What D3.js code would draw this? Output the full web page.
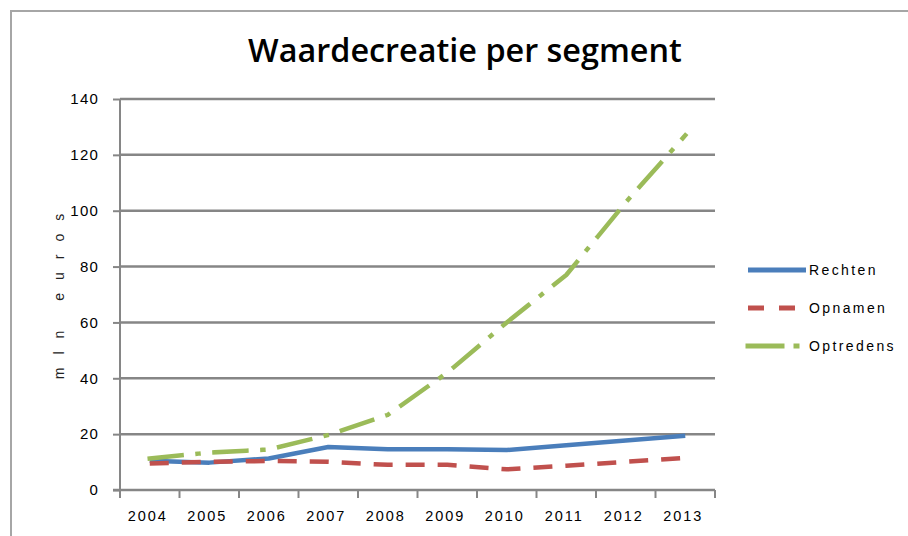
<!DOCTYPE html>
<html>
<head>
<meta charset="utf-8">
<script src="https://cdn.jsdelivr.net/npm/d3@7"></script>
<style>
  html, body { margin: 0; padding: 0; background: #fff; }
  svg { display: block; }
</style>
</head>
<body>
<svg id="chart" width="908" height="536"></svg>
<script>
const title = "Waardecreatie per segment";
const yLabel = "mln euros";
const years = ["2004","2005","2006","2007","2008","2009","2010","2011","2012","2013"];
const yTicks = [0, 20, 40, 60, 80, 100, 120, 140];
const seriesNames = ["Rechten", "Opnamen", "Optredens"];
const rechten   = [10.5, 9.8, 11.3, 15.4, 14.6, 14.6, 14.3, 16.0, 17.7, 19.4];
const opnamen   = [9.5, 10.1, 10.4, 10.1, 9.0, 9.0, 7.4, 8.7, 10.1, 11.5];
const optredens = [11.3, 13.4, 14.5, 19.7, 26.9, 42, 60, 77, 103, 127];

(function () {
const svg = d3.select("#chart");
const W = 908, H = 536;

// outer border
svg.append("path")
  .attr("d", `M11,${H + 5} L11,11 L${W + 5},11`)
  .attr("fill", "none").attr("stroke", "#a6a6a6").attr("stroke-width", 2);

const pL = 120, pR = 715, pT = 99, pB = 490;
const x = d3.scaleBand().domain(years).range([pL, pR]).padding(0);
const y = d3.scaleLinear().domain([0, 140]).range([pB, pT]);
const gridColor = "#868686";

// gridlines
svg.append("g").selectAll("line").data(yTicks.filter(t => t > 0)).join("line")
  .attr("x1", pL).attr("x2", pR)
  .attr("y1", d => y(d)).attr("y2", d => y(d))
  .attr("stroke", gridColor).attr("stroke-width", 2.5);

// y axis
const yAxis = svg.append("g").attr("transform", `translate(${pL},0)`)
  .call(d3.axisLeft(y).tickValues(yTicks).tickSize(7).tickPadding(14).tickFormat(d3.format("d")));
yAxis.select(".domain").attr("stroke", gridColor).attr("stroke-width", 2).attr("d", `M0,${pT}V${pB + 8}`);
yAxis.selectAll(".tick line").attr("stroke", gridColor).attr("stroke-width", 2);
yAxis.selectAll(".tick text")
  .attr("font-family", "Liberation Sans, Arial, sans-serif")
  .attr("font-size", 15).attr("letter-spacing", 1.2).attr("fill", "#000");

// x axis
const xAxis = svg.append("g").attr("transform", `translate(0,${pB})`)
  .call(d3.axisBottom(x).tickSize(0).tickPadding(21));
xAxis.select(".domain").attr("stroke", gridColor).attr("stroke-width", 2.5)
  .attr("d", `M${pL - 7},0H${pR}`);
const bounds = years.map(yr => x(yr)).concat([pR]);
xAxis.selectAll(".bt").data(bounds).join("line").attr("class", "bt")
  .attr("x1", d => d).attr("x2", d => d).attr("y1", 0).attr("y2", 8)
  .attr("stroke", gridColor).attr("stroke-width", 2);
xAxis.selectAll(".tick text")
  .attr("font-family", "Liberation Sans, Arial, sans-serif")
  .attr("font-size", 14.5).attr("letter-spacing", 2).attr("fill", "#000")
  .attr("dx", -2);

// y label
svg.append("text")
  .attr("transform", "translate(64,290) rotate(-90)")
  .attr("text-anchor", "middle")
  .attr("font-family", "Liberation Sans, Arial, sans-serif")
  .attr("font-size", 14).attr("letter-spacing", 13).attr("fill", "#222")
  .text(yLabel);

// title (fit to width)
const t = svg.append("text")
  .attr("x", 465).attr("y", 62).attr("text-anchor", "middle")
  .attr("font-family", "Open Sans, sans-serif").attr("font-weight", 600)
  .attr("font-size", 100).attr("fill", "#000").text(title);
const tw = t.node().getComputedTextLength();
t.attr("font-size", 100 * 434 / tw);

// lines
const cx = i => x(years[i]) + x.bandwidth() / 2;
const line = d3.line().x((d, i) => cx(i)).y(d => y(d));
const styles = [
  { data: rechten,   color: "#4a7ebb", dash: null, cap: "butt" },
  { data: opnamen,   color: "#c0504d", dash: "19,13", cap: "butt" },
  { data: optredens, color: "#9bbb59", dash: "32,16,1,16", cap: "square" }
];
styles.forEach(s => {
  svg.append("path").datum(s.data)
    .attr("d", line)
    .attr("fill", "none").attr("stroke", s.color).attr("stroke-width", 4.5)
    .attr("stroke-linejoin", "round").attr("stroke-linecap", s.cap)
    .attr("stroke-dasharray", s.dash);
});

// legend
const legY = [270, 308, 346];
const legendDash = [null, "16,15", "34,14,1,14"];
seriesNames.forEach((n, i) => {
  svg.append("line")
    .attr("x1", 748).attr("x2", i === 2 ? 802 : 806)
    .attr("y1", legY[i]).attr("y2", legY[i])
    .attr("stroke", styles[i].color).attr("stroke-width", 5)
    .attr("stroke-linecap", styles[i].cap)
    .attr("stroke-dasharray", legendDash[i]);
  svg.append("text")
    .attr("x", 809).attr("y", legY[i]).attr("dy", "0.35em")
    .attr("font-family", "Liberation Sans, Arial, sans-serif")
    .attr("font-size", 14).attr("letter-spacing", 2.4).attr("fill", "#000")
    .text(n);
});
})();
</script>
</body>
</html>
